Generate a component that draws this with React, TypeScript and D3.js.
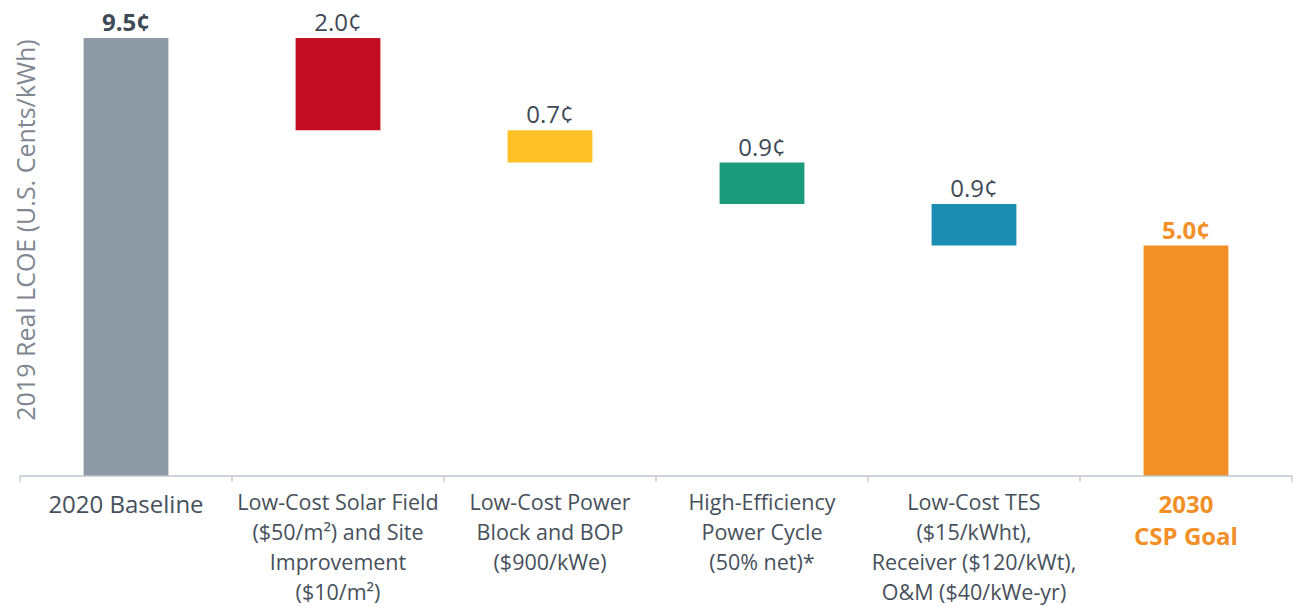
import React, { useEffect, useRef } from 'react';
import * as d3 from 'd3';

const categories = [
  ['2020 Baseline'],
  ['Low-Cost Solar Field', '($50/m²) and Site', 'Improvement', '($10/m²)'],
  ['Low-Cost Power', 'Block and BOP', '($900/kWe)'],
  ['High-Efficiency', 'Power Cycle', '(50% net)*'],
  ['Low-Cost TES', '($15/kWht),', 'Receiver ($120/kWt),', 'O&M ($40/kWe-yr)'],
  ['2030', 'CSP Goal'],
];
const steps = [9.5, -2.0, -0.7, -0.9, -0.9];
const totalGoal = 5.0;
const valueLabels = ['9.5¢', '2.0¢', '0.7¢', '0.9¢', '0.9¢', '5.0¢'];
const barColors = ['#8d99a5', '#c20d23', '#fdc126', '#1b9a7c', '#1b8db3', '#f28f26'];

const App: React.FC = () => {
  const svgRef = useRef<SVGSVGElement>(null);

  useEffect(() => {
    if (!svgRef.current) return;
    const svg = d3.select(svgRef.current);
    svg.selectAll('*').remove();

    const width = 1294;
    const height = 607;
    const font = '"Open Sans", "Noto Sans", sans-serif';

    const x = d3.scaleBand<number>()
      .domain(d3.range(categories.length))
      .range([20, 1292])
      .padding(0);
    const y = d3.scaleLinear().domain([0, 10]).range([476, 15]);

    // build waterfall bars
    let running = 0;
    const bars = steps.map((s, i) => {
      const start = running;
      running += s;
      return { i, lo: Math.min(start, running), hi: Math.max(start, running) };
    });
    bars.push({ i: 5, lo: 0, hi: totalGoal });

    const barW = x.bandwidth() * 0.4;

    svg.attr('width', width).attr('height', height);

    svg.append('g')
      .selectAll('rect')
      .data(bars)
      .enter()
      .append('rect')
      .attr('x', d => x(d.i)! + (x.bandwidth() - barW) / 2)
      .attr('width', barW)
      .attr('y', d => y(d.hi))
      .attr('height', d => y(d.lo) - y(d.hi))
      .attr('fill', d => barColors[d.i]);

    // value labels
    svg.append('g')
      .selectAll('text')
      .data(bars)
      .enter()
      .append('text')
      .attr('x', d => x(d.i)! + x.bandwidth() / 2)
      .attr('y', d => y(d.hi) - 7)
      .attr('text-anchor', 'middle')
      .attr('font-family', font)
      .attr('font-size', 24)
      .attr('font-weight', d => (d.i === 0 || d.i === 5 ? 700 : 400))
      .attr('fill', d => (d.i === 5 ? '#f28f26' : '#3f4a57'))
      .text(d => valueLabels[d.i]);

    // x axis
    const axis = svg.append('g');
    axis.append('line')
      .attr('x1', 20).attr('x2', 1292)
      .attr('y1', y(0)).attr('y2', y(0))
      .attr('stroke', '#bfc5cb').attr('stroke-width', 1.3);
    const tickPos = [...d3.range(categories.length).map(i => x(i)!), 1292];
    axis.selectAll('line.tick')
      .data(tickPos)
      .enter()
      .append('line')
      .attr('class', 'tick')
      .attr('x1', d => d).attr('x2', d => d)
      .attr('y1', y(0)).attr('y2', y(0) + 6)
      .attr('stroke', '#bfc5cb').attr('stroke-width', 1.3);

    const lbl = axis.selectAll('text.cat')
      .data(categories)
      .enter()
      .append('text')
      .attr('class', 'cat')
      .attr('text-anchor', 'middle')
      .attr('font-family', font)
      .attr('font-size', (_, i) => (i === 0 ? 24 : i === 5 ? 24 : 21.5))
      .attr('font-weight', (_, i) => (i === 5 ? 700 : 400))
      .attr('fill', (_, i) => (i === 5 ? '#f28f26' : '#46505b'));
    lbl.each(function (lines, i) {
      const t = d3.select(this);
      lines.forEach((line, j) => {
        t.append('tspan')
          .attr('x', x(i)! + x.bandwidth() / 2)
          .attr('y', i === 5 ? 513 + j * 32 : i === 0 ? 513 : 510 + j * 30)
          .text(line);
      });
    });

    // y axis title
    svg.append('text')
      .attr('transform', `translate(35,${230}) rotate(-90)`)
      .attr('text-anchor', 'middle')
      .attr('font-family', font)
      .attr('font-size', 25)
      .attr('fill', '#7f8790')
      .text('2019 Real LCOE (U.S. Cents/kWh)');
  }, []);

  return (
    <svg ref={svgRef} style={{ position: 'absolute', left: 0, top: 0, background: '#fff' }} />
  );
};

export default App;
